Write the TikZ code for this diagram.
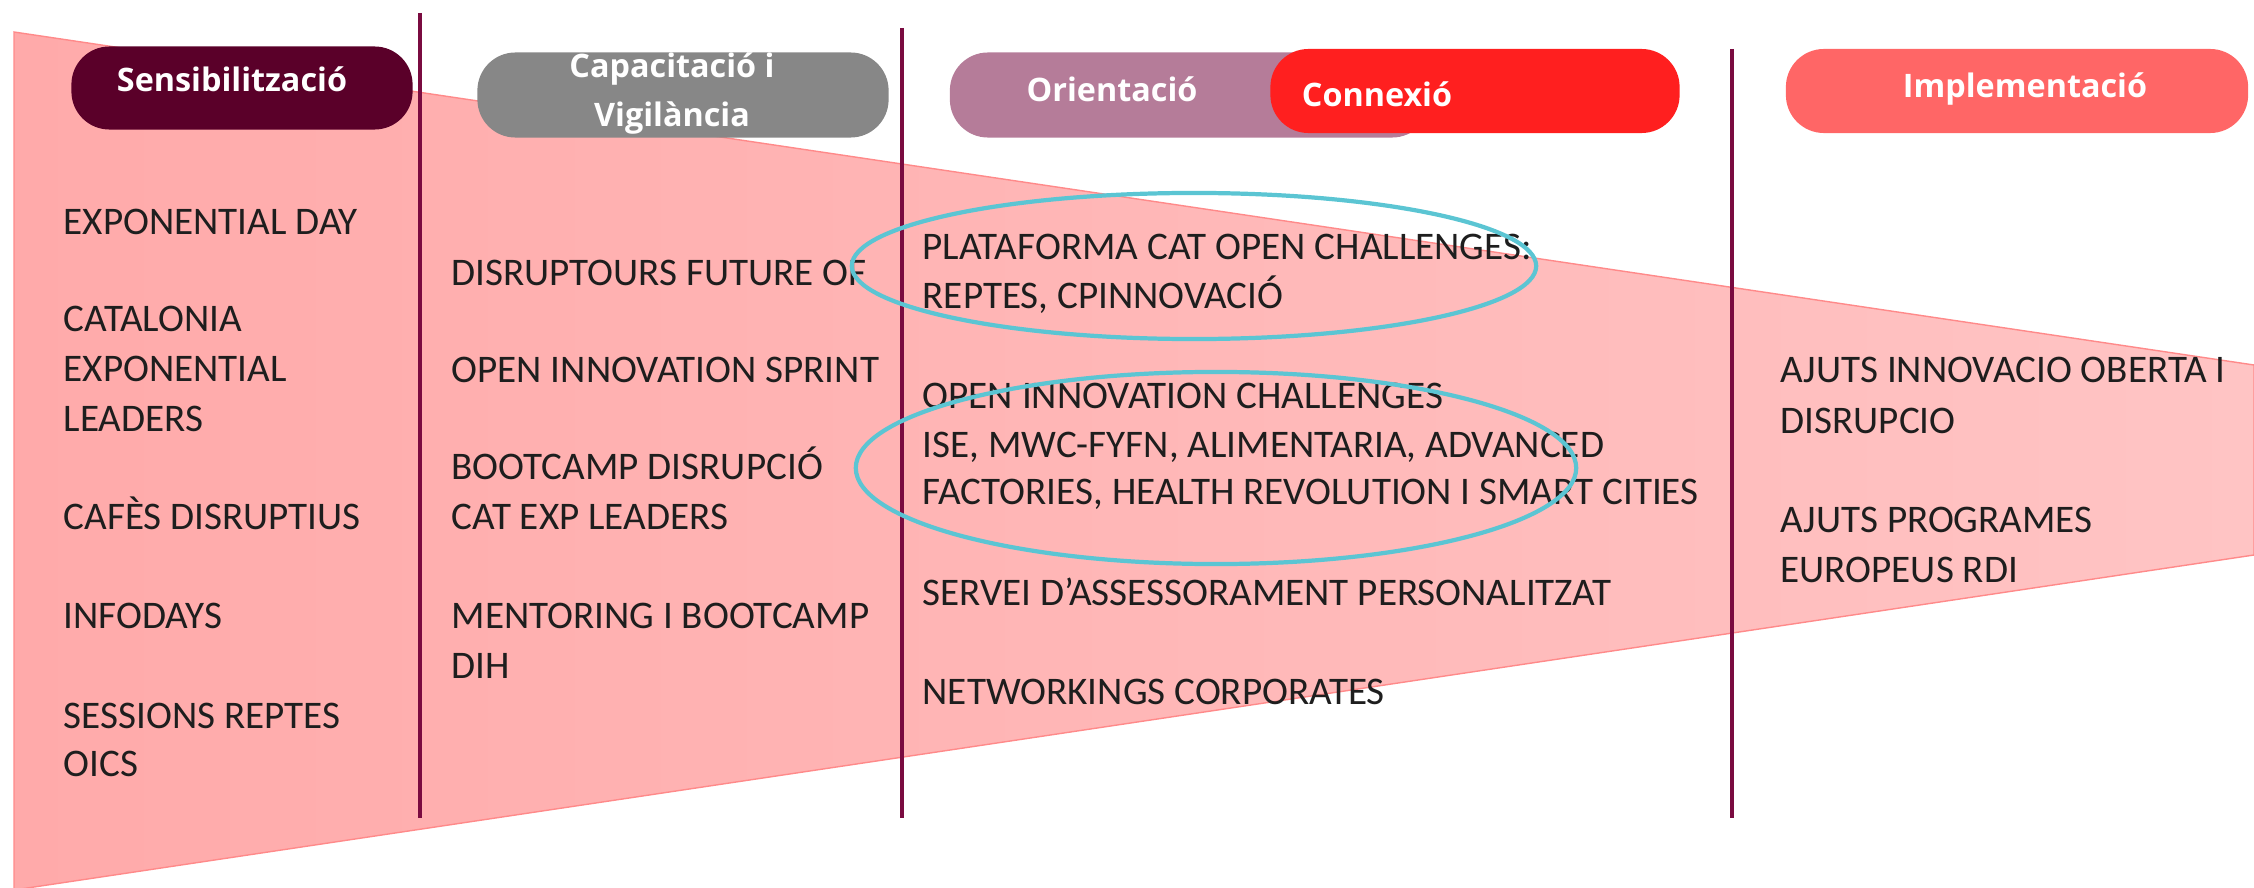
\documentclass[tikz,border=0pt]{standalone}
\usepackage{fontspec}
\usepackage{xcolor}
\usepackage{tikz}
\usetikzlibrary{positioning}
\newfontfamily\bodyfont{Carlito}
\newfontfamily\pillfont{Open Sans}
\definecolor{sensc}{HTML}{5A0029}
\definecolor{capc}{HTML}{878787}
\definecolor{orientc}{HTML}{B57C99}
\definecolor{connexc}{HTML}{FF1F1F}
\definecolor{implemc}{HTML}{FF6666}
\definecolor{wine}{HTML}{7A0B40}
\definecolor{ringblue}{HTML}{5BC5D3}
\definecolor{funnelL}{HTML}{FFAAAA}
\definecolor{funnelR}{HTML}{FFC4C4}
\definecolor{funnelE}{HTML}{FF8A8A}
\definecolor{ink}{HTML}{1E1E1E}

\begin{document}
\begin{tikzpicture}[x=0.01cm,y=-0.01cm]
	\tikzset{pill/.style={rounded corners=0.38cm,inner sep=0pt,minimum height=0.84cm},
		pilltext/.style={anchor=base,inner sep=0pt,text=white,
			font=\pillfont\bfseries\fontsize{9.2}{12}\selectfont},
		item/.style={anchor=base west,inner sep=0pt,text=ink,
			font=\bodyfont\fontsize{11.12}{14}\selectfont},
		divider/.style={draw=wine,line width=1.4pt},
		ring/.style={draw=ringblue,line width=1.2pt}}

\useasboundingbox (0,0) rectangle (2254,888);

% funnel
\shade[left color=funnelL,right color=funnelR,draw=funnelE,line width=0.4pt]
	(14,32) -- (2254,365) -- (2254,555) -- (14,890) -- cycle;

\draw[divider] (420,13) -- (420,818);
\draw[divider] (902,28) -- (902,818);
\draw[divider] (1732,49) -- (1732,818);

% phases
\node[pill,fill=sensc,minimum width=3.41cm,minimum height=0.83cm] (sens) at (242,88) {};
\node[pill,fill=capc,minimum width=4.11cm,minimum height=0.85cm] (capac) at (683,95) {};
\node[pill,fill=orientc,minimum width=4.8cm,minimum height=0.85cm] (orient) at (1190,95) {};
\node[pill,fill=connexc,minimum width=4.09cm] (connex) at (1475,91) {};
\node[pill,fill=implemc,minimum width=4.62cm] (implem) at (2017,91) {};

\node[pilltext] (senst) at (232,92) {Sensibilització};
\node[pilltext] (capt1) at (672,78) {Capacitació i};
\node[pilltext] (capt2) at (672,127) {Vigilància};
\node[pilltext] (orientt) at (1112,102) {Orientació};
\node[pilltext] (connext) at (1377,107) {Connexió};
\node[pilltext] (implemt) at (2025,98) {Implementació};

% column 1
\node[item] (c1a) at (63,235) {EXPONENTIAL DAY};
\node[item] (c1b) at (63,331) {CATALONIA};
\node[item] (c1c) at (63,381) {EXPONENTIAL};
\node[item] (c1d) at (63,431) {LEADERS};
\node[item] (c1e) at (63,529) {CAFÈS DISRUPTIUS};
\node[item] (c1f) at (63,628) {INFODAYS};
\node[item] (c1g) at (63,728) {SESSIONS REPTES};
\node[item] (c1h) at (63,776) {OICS};

% column 2
\node[item] (c2a) at (451,285) {DISRUPTOURS FUTURE OF};
\node[item] (c2b) at (451,383) {OPEN INNOVATION SPRINT};
\node[item] (c2c) at (451,479) {BOOTCAMP DISRUPCIÓ};
\node[item] (c2d) at (451,529) {CAT EXP LEADERS};
\node[item] (c2e) at (451,628) {MENTORING I BOOTCAMP};
\node[item] (c2f) at (451,678) {DIH};

% column 3
\node[item] (c3a) at (922,260) {PLATAFORMA CAT OPEN CHALLENGES:};
\node[item] (c3b) at (922,308) {REPTES, CPINNOVACIÓ};
\node[item] (c3c) at (922,408) {OPEN INNOVATION CHALLENGES};
\node[item] (c3d) at (922,457) {ISE, MWC-FYFN, ALIMENTARIA, ADVANCED};
\node[item] (c3e) at (922,504) {FACTORIES, HEALTH REVOLUTION I SMART CITIES};
\node[item] (c3f) at (922,605) {SERVEI D’ASSESSORAMENT PERSONALITZAT};
\node[item] (c3g) at (922,704) {NETWORKINGS CORPORATES};

% column 4
\node[item] (c4a) at (1780,383) {AJUTS INNOVACIO OBERTA I};
\node[item] (c4b) at (1780,433) {DISRUPCIO};
\node[item] (c4c) at (1780,532) {AJUTS PROGRAMES};
\node[item] (c4d) at (1780,582) {EUROPEUS RDI};

\draw[ring] (1194,266) ellipse [x radius=3.42cm,y radius=0.73cm];
\draw[ring] (1216,468) ellipse [x radius=3.6cm,y radius=0.96cm];
\end{tikzpicture}
\end{document}
